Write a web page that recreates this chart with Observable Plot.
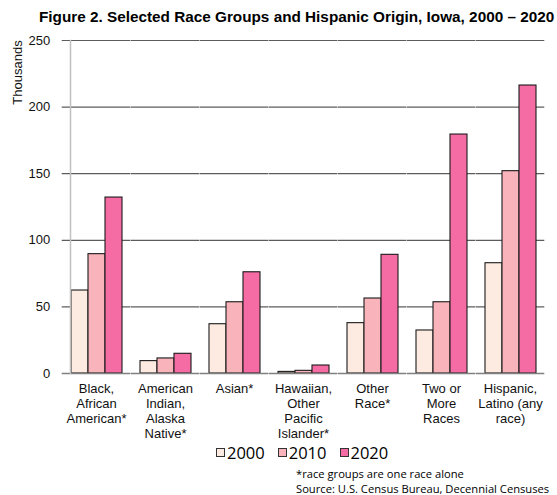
<!DOCTYPE html>
<html><head><meta charset="utf-8">
<script src="https://cdn.jsdelivr.net/npm/d3@7"></script>
<script src="https://cdn.jsdelivr.net/npm/@observablehq/plot@0.6"></script>
<style>
body{margin:0;background:#fff;}
#wrap{position:relative;width:557px;height:495px;overflow:hidden;background:#fff;}
#chart{position:absolute;left:0;top:0;z-index:1;}
#title{position:absolute;left:39px;top:8px;font:bold 15.3px "Liberation Sans",Arial,sans-serif;line-height:17.6px;color:#000;white-space:nowrap;z-index:2;}
#legend{position:absolute;left:216px;top:441px;display:flex;align-items:center;font:16.5px "Open Sans",sans-serif;color:#000;z-index:2;}
#legend .item{display:flex;align-items:center;margin-right:13px;}
#legend .sw{width:7px;height:7px;border:1px solid #333;margin-right:2px;}
.cap{position:absolute;left:296px;font:11.2px "Open Sans",sans-serif;color:#000;line-height:12px;height:12px;white-space:nowrap;z-index:2;}
#cap1{top:467.5px;}
#cap2{top:482.8px;}
</style></head><body>
<div id="wrap">
  <div id="chart"></div>
  <div id="title">Figure 2. Selected Race Groups and Hispanic Origin, Iowa, 2000 – 2020</div>
  <div id="legend"></div>
  <div class="cap" id="cap1">*race groups are one race alone</div>
  <div class="cap" id="cap2">Source: U.S. Census Bureau, Decennial Censuses</div>
</div>
<script>
const categories = ["Black", "AIAN", "Asian", "NHPI", "Other", "Two", "Hispanic"];
const categoryLabels = [
  "Black,\nAfrican\nAmerican*",
  "American\nIndian,\nAlaska\nNative*",
  "Asian*",
  "Hawaiian,\nOther\nPacific\nIslander*",
  "Other\nRace*",
  "Two or\nMore\nRaces",
  "Hispanic,\nLatino (any\nrace)"
];
const years = ["2000", "2010", "2020"];
const values2000 = [62.3, 9.3, 37.0, 1.2, 37.8, 32.3, 82.8];
const values2010 = [89.6, 11.3, 53.5, 2.0, 56.3, 53.5, 151.9];
const values2020 = [132.1, 14.8, 76.0, 6.0, 89.1, 179.4, 216.2];
const yearColors = ["#FDEBE2", "#F9B3BA", "#F56BA3"];
const yTicks = [0, 50, 100, 150, 200, 250];
const gridTicks = [50, 100, 150, 200, 250];
const yLabel = "Thousands";

const series = [values2000, values2010, values2020];
const data = [];
categories.forEach((c, i) => years.forEach((y, j) => data.push({cat: c, year: y, value: series[j][i]})));
const labelOf = Object.fromEntries(categories.map((c, i) => [c, categoryLabels[i]]));

const W = 557, H = 448, mL = 62, mR = 12, pI = 0.24, pO = 0.12;
const step = (W - mL - mR) / (categories.length - pI + 2 * pO);
const half = step * pI / 2;

const plot = Plot.plot({
  width: W, height: H,
  marginLeft: mL, marginRight: mR, marginTop: 40, marginBottom: H - 373,
  style: {fontFamily: "'Liberation Sans', Arial, sans-serif", fontSize: "13px", color: "#000", background: "transparent"},
  fx: {domain: categories, paddingInner: pI, paddingOuter: pO, axis: null, label: null},
  x: {domain: years, padding: 0, axis: null},
  y: {domain: [0, 250], label: null},
  color: {domain: years, range: yearColors},
  marks: [
    Plot.ruleY(gridTicks, {stroke: "#5c5c5c", strokeWidth: 1.2, insetLeft: -half, insetRight: -half}),
    Plot.barY(data, {fx: "cat", x: "year", y: "value", fill: "year", stroke: "#1a1a1a", strokeWidth: 1.1}),
    Plot.ruleY([0], {stroke: "#808080", strokeWidth: 1.6, insetLeft: -half, insetRight: -half}),
    Plot.frame({anchor: "left", facet: "super", stroke: "#c0c0c0", strokeWidth: 1.5}),
    Plot.axisY(yTicks, {tickSize: 0, tickPadding: half + 12, fontSize: 13, label: null, fill: "#111"}),
    Plot.text([yLabel], {facet: "super", frameAnchor: "top-left", text: d => d, rotate: -90, textAnchor: "middle", lineAnchor: "middle", dx: -53, dy: 32, fontSize: 13, fill: "#111"}),
    Plot.text(categories, {fx: d => d, text: d => labelOf[d], frameAnchor: "bottom", lineAnchor: "top", dy: 9, lineHeight: 1.15, fontSize: 13, fill: "#111"})
  ]
});
document.getElementById("chart").appendChild(plot);

const legend = d3.select("#legend");
years.forEach((y, i) => {
  const it = legend.append("div").attr("class", "item");
  it.append("div").attr("class", "sw").style("background", yearColors[i]);
  it.append("span").text(y);
});
</script>
</body></html>
